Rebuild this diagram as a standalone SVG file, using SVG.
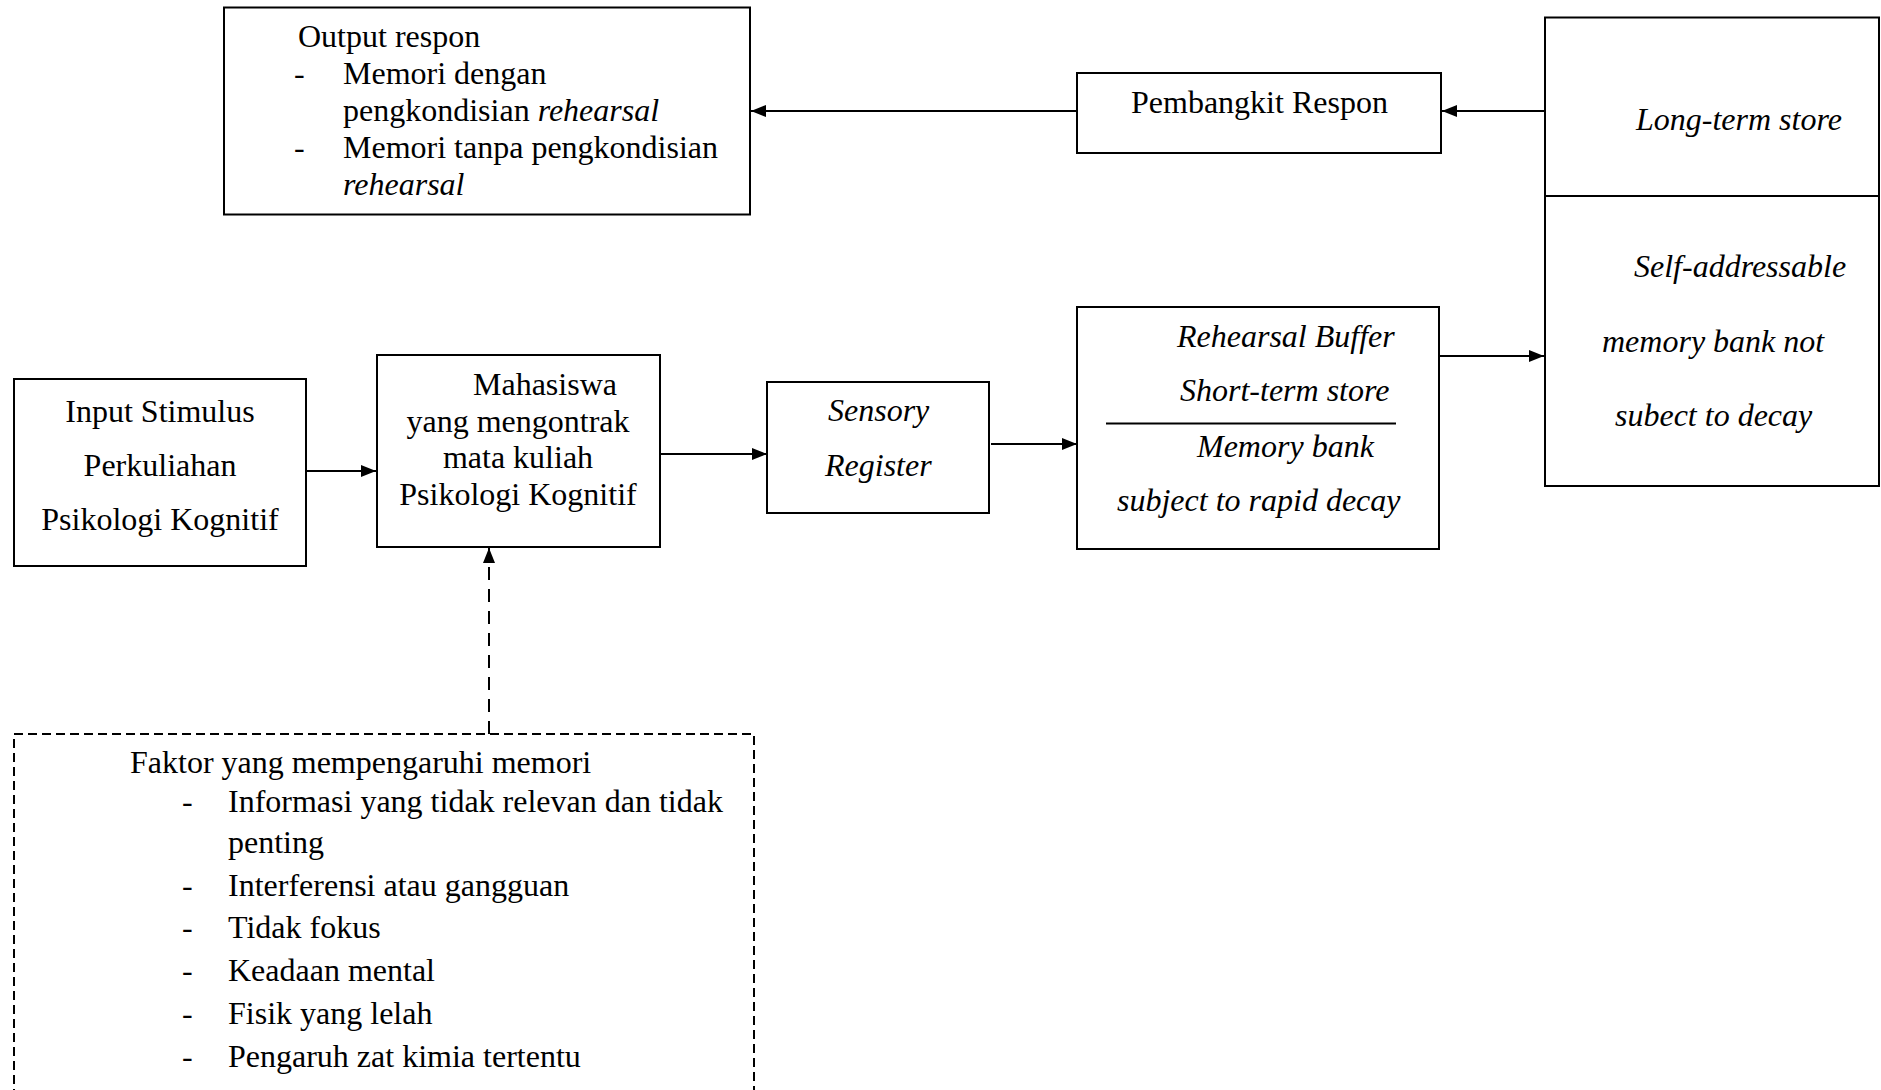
<svg xmlns="http://www.w3.org/2000/svg" width="1881" height="1090" viewBox="0 0 1881 1090">
<style>
  text { font-family: "Liberation Serif", "Times New Roman", serif; font-size: 32px; fill: #000; }
  .it { font-style: italic; }
  .box { fill: #fff; stroke: #000; stroke-width: 2; }
  .dbox { fill: #fff; stroke: #000; stroke-width: 2; stroke-dasharray: 9 5; }
  .conn { stroke: #000; stroke-width: 2.2; fill: none; }
  .dconn { stroke: #000; stroke-width: 2; fill: none; stroke-dasharray: 13 9; }
</style>
<defs>
  <marker id="arr" markerUnits="userSpaceOnUse" markerWidth="16" markerHeight="13" refX="15" refY="6" orient="auto">
    <path d="M0,0 L15,6 L0,12 z" fill="#000"/>
  </marker>
</defs>
<rect width="1881" height="1090" fill="#fff"/>

<g id="connectors">
  <line class="conn" x1="1545" y1="111" x2="1442" y2="111" marker-end="url(#arr)"/>
  <line class="conn" x1="1077" y1="111" x2="751" y2="111" marker-end="url(#arr)"/>
  <line class="conn" x1="306" y1="471" x2="376" y2="471" marker-end="url(#arr)"/>
  <line class="conn" x1="660" y1="454" x2="767" y2="454" marker-end="url(#arr)"/>
  <line class="conn" x1="991" y1="444" x2="1077" y2="444" marker-end="url(#arr)"/>
  <line class="conn" x1="1439" y1="356" x2="1544" y2="356" marker-end="url(#arr)"/>
  <line class="dconn" x1="489" y1="734" x2="489" y2="548" marker-end="url(#arr)"/>
</g>

<g id="output-respon">
  <rect class="box" x="224" y="7.5" width="526" height="207"/>
  <text x="298" y="47">Output respon</text>
  <text x="294" y="84">-</text>
  <text x="343" y="84">Memori dengan</text>
  <text x="343" y="121">pengkondisian <tspan class="it">rehearsal</tspan></text>
  <text x="294" y="158">-</text>
  <text x="343" y="158">Memori tanpa pengkondisian</text>
  <text x="343" y="195" class="it">rehearsal</text>
</g>

<g id="pembangkit-respon">
  <rect class="box" x="1077" y="73" width="364" height="80"/>
  <text x="1131" y="113">Pembangkit Respon</text>
</g>

<g id="long-term-store">
  <rect class="box" x="1545" y="17.5" width="334" height="468.5"/>
  <line x1="1545" y1="196" x2="1879" y2="196" stroke="#000" stroke-width="2"/>
  <text x="1636" y="130" class="it">Long-term store</text>
  <text x="1634" y="277" class="it">Self-addressable</text>
  <text x="1602" y="352" class="it">memory bank not</text>
  <text x="1615" y="426" class="it">subect to decay</text>
</g>

<g id="input-stimulus">
  <rect class="box" x="14" y="379" width="292" height="187"/>
  <text x="160" y="422" text-anchor="middle">Input Stimulus</text>
  <text x="160" y="476" text-anchor="middle">Perkuliahan</text>
  <text x="160" y="530" text-anchor="middle">Psikologi Kognitif</text>
</g>

<g id="mahasiswa">
  <rect class="box" x="377" y="355" width="283" height="192"/>
  <text x="473" y="395">Mahasiswa</text>
  <text x="518" y="432" text-anchor="middle">yang mengontrak</text>
  <text x="518" y="468" text-anchor="middle">mata kuliah</text>
  <text x="518" y="505" text-anchor="middle">Psikologi Kognitif</text>
</g>

<g id="sensory-register">
  <rect class="box" x="767" y="382" width="222" height="131"/>
  <text x="828" y="421" class="it">Sensory</text>
  <text x="825" y="476" class="it">Register</text>
</g>

<g id="short-term-store">
  <rect class="box" x="1077" y="307" width="362" height="242"/>
  <text x="1177" y="347" class="it">Rehearsal Buffer</text>
  <text x="1180" y="401" class="it">Short-term store</text>
  <line x1="1106" y1="423.5" x2="1396" y2="423.5" stroke="#000" stroke-width="2"/>
  <text x="1197" y="457" class="it">Memory bank</text>
  <text x="1117" y="511" class="it">subject to rapid decay</text>
</g>

<g id="faktor">
  <rect class="dbox" x="14" y="734" width="740" height="380"/>
  <text x="130" y="773">Faktor yang mempengaruhi memori</text>
  <text x="182" y="812">-</text>
  <text x="228" y="812">Informasi yang tidak relevan dan tidak</text>
  <text x="228" y="853">penting</text>
  <text x="182" y="896">-</text>
  <text x="228" y="896">Interferensi atau gangguan</text>
  <text x="182" y="938">-</text>
  <text x="228" y="938">Tidak fokus</text>
  <text x="182" y="981">-</text>
  <text x="228" y="981">Keadaan mental</text>
  <text x="182" y="1024">-</text>
  <text x="228" y="1024">Fisik yang lelah</text>
  <text x="182" y="1067">-</text>
  <text x="228" y="1067">Pengaruh zat kimia tertentu</text>
</g>
</svg>
